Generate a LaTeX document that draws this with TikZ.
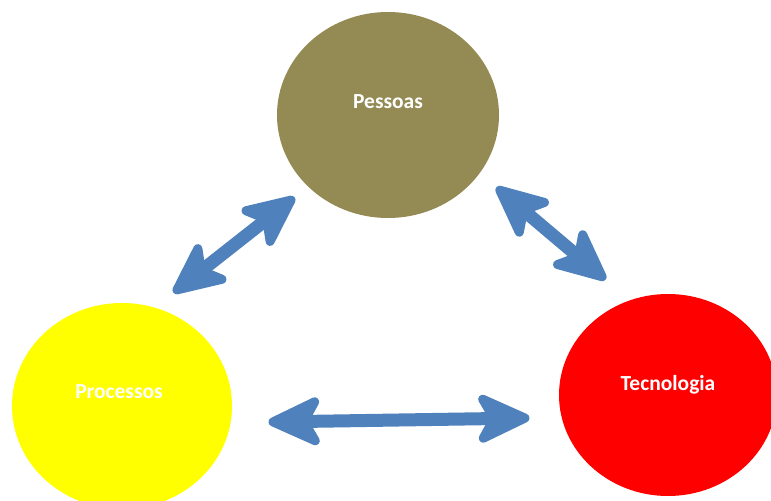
\documentclass[tikz,border=0pt]{standalone}
\usepackage{fontspec}
\setmainfont{Carlito}
\usetikzlibrary{shapes.geometric,decorations.markings,calc}
\definecolor{olivebrown}{HTML}{948A54}
\definecolor{linkblue}{HTML}{4F81BD}
\definecolor{sunyellow}{HTML}{FFFF00}
\definecolor{pured}{HTML}{FF0000}
\tikzset{
  blob/.style={ellipse, draw=none, inner sep=0pt},
  caption/.style={text=white, font=\bfseries\fontsize{21.5bp}{24bp}\selectfont, inner sep=0pt},
  headfill/.style={draw=linkblue, fill=linkblue, line width=9bp, line join=round},
  shaft/.style={draw=linkblue, line width=13bp, shorten <=24bp, shorten >=24bp},
  heads/.style={decoration={markings,
      mark=at position 0 with {\path[headfill] (5,0) -- (47,19.5) -- (36,0) -- (47,-19.5) -- cycle;},
      mark=at position 0.9999 with {\path[headfill] (-5,0) -- (-47,19.5) -- (-36,0) -- (-47,-19.5) -- cycle;}},
    decorate},
}
\begin{document}
\begin{tikzpicture}[x=1bp,y=-1bp]
\useasboundingbox (0,0) rectangle (771,501);
\clip (0,0) rectangle (771,501);
\fill[white] (0,0) rectangle (771,501);

% the three circles
\node[blob, fill=olivebrown, minimum width=222bp, minimum height=206bp] (pessoas) at (388,115) {};
\node[blob, fill=sunyellow, minimum width=220bp, minimum height=206bp] (processos) at (122,406) {};
\node[blob, fill=pured, minimum width=218bp, minimum height=202bp] (tecnologia) at (668,395) {};

\node[caption] (tPessoas) at ($(pessoas.center)+(0,-13)$) {Pessoas};
\node[caption] (tProcessos) at ($(processos.center)+(-3,-14)$) {Processos};
\node[caption] (tTecnologia) at ($(tecnologia.center)+(0,-10)$) {Tecnologia};

% arrow end points
\coordinate (pl) at (173,293);
\coordinate (pu) at (295,197);
\coordinate (tu) at (496,187);
\coordinate (tl) at (606,280);
\coordinate (bl) at (268,422);
\coordinate (br) at (530,418);

% double-headed links
\draw[shaft] (pl) -- (pu);
\path[heads] (pl) -- (pu);
\draw[shaft] (tu) -- (tl);
\path[heads] (tu) -- (tl);
\draw[shaft] (bl) -- (br);
\path[heads] (bl) -- (br);
\end{tikzpicture}
\end{document}
